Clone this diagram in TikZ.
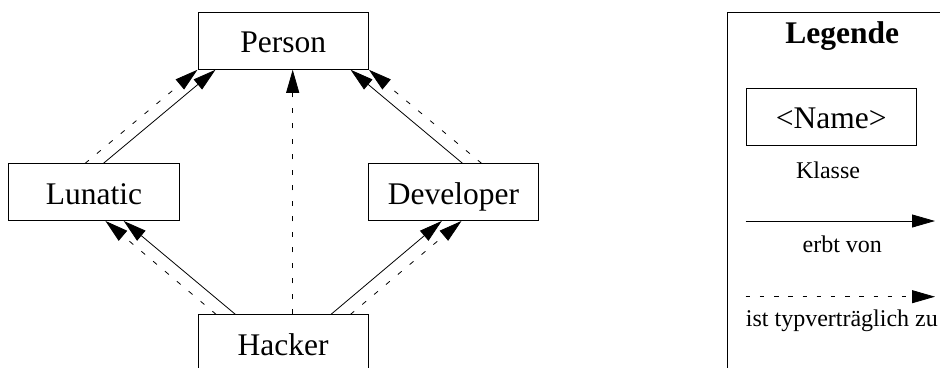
\documentclass[tikz,border=0pt]{standalone}
\usepackage{fontspec}
\setmainfont{Liberation Serif}
\usetikzlibrary{arrows.meta,calc}
\tikzset{
  cls/.style={draw, line width=0.9pt, minimum width=170.5pt, minimum height=56.6pt,
    inner sep=0pt, text height=23.8pt, text depth=0pt,
    font=\fontsize{31.5pt}{36pt}\selectfont},
  inh/.style={line width=0.8pt, -{Triangle[length=23pt,width=13pt]}},
  conf/.style={inh, dash pattern=on 5pt off 10.5pt},
  confleg/.style={inh, dash pattern=on 4.5pt off 9.7pt},
  small/.style={font=\fontsize{24pt}{28pt}\selectfont, inner sep=0pt, anchor=base},
  legtitle/.style={font=\fontsize{31.5pt}{36pt}\selectfont\bfseries, inner sep=0pt, anchor=base},
  legbox/.style={draw, line width=0.9pt, minimum width=232.7pt, minimum height=377.3pt, inner sep=0pt}
}
\begin{document}
\begin{tikzpicture}[x=1pt,y=-1pt]
\useasboundingbox (0,0) rectangle (940,367);
\clip (0,0) rectangle (940,367);
% class boxes
\node[cls] (per) at (283.2,41) {Person};
\node[cls] (lun) at (94,192.2) {Lunatic};
\node[cls] (dev) at (453.5,192.2) {Developer};
\node[cls] (hac) at (283.2,343.2) {Hacker};
% connectors
\draw[inh]  ($(lun.north)+(9.3,0)$) -- ($(per.south west)+(18,0)$);
\draw[conf] ($(lun.north)+(-9,0)$) -- (per.south west);
\draw[inh]  ($(dev.north)+(9.2,0)$) -- ($(per.south east)+(-18.3,0)$);
\draw[conf] ($(dev.north)+(28.2,0)$) -- (per.south east);
\draw[conf] ($(hac.north)+(9.5,0)$) -- ($(per.south)+(9.5,0)$);
\draw[inh]  ($(hac.north west)+(38,0)$) -- ($(lun.south east)+(-56,0)$);
\draw[conf] ($(hac.north west)+(18.7,0)$) -- ($(lun.south east)+(-74.3,0)$);
\draw[inh]  ($(hac.north east)+(-38,0)$) -- ($(dev.south west)+(74,0)$);
\draw[conf] ($(hac.north east)+(-18.5,0)$) -- ($(dev.south west)+(93.7,0)$);
% legend
\node[legbox] (leg) at (843.65,201.35) {};
\node[legtitle] (legt) at (842.2,43.3) {Legende};
\node[cls] (nam) at (831.3,116.7) {<Name>};
\node[small] (kla) at (828,178.3) {Klasse};
\coordinate (a1) at (745.7,221);
\coordinate (a2) at (935,221);
\draw[inh] (a1) -- (a2);
\node[small] (erb) at (842.3,252.7) {erbt von};
\coordinate (b1) at (745.7,296.7);
\coordinate (b2) at (935,296.7);
\draw[confleg] (b1) -- (b2);
\node[small, anchor=base west] (typ) at (745.7,326.7) {ist typverträglich zu};
\end{tikzpicture}
\end{document}
